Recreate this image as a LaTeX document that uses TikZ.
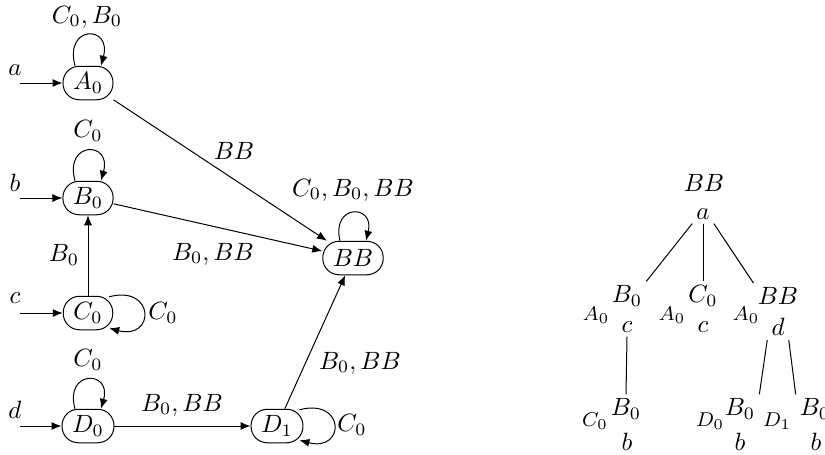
\documentclass[tikz,border=0pt]{standalone}
\usetikzlibrary{arrows.meta}
\begin{document}
\begin{tikzpicture}[x=0.4pt,y=-0.4pt,
  state/.style={draw,rounded corners=6.5pt,inner xsep=4pt,inner ysep=2.5pt,minimum height=13.4pt,minimum width=19.8pt},
  arr/.style={-{Latex[length=4pt,width=3.2pt]}},
  tn/.style={inner sep=1.5pt},
  sm/.style={inner sep=0pt,font=\footnotesize}]
\useasboundingbox (0,0) rectangle (825,454);
% states
\node[state] (A0) at (88,83) {$A_0$};
\node[state] (B0) at (88,198) {$B_0$};
\node[state] (C0) at (88,313) {$C_0$};
\node[state] (D0) at (88,426) {$D_0$};
\node[state] (D1) at (277,426) {$D_1$};
\node[state] (BB) at (353,258) {$BB$};
% initial arrows
\coordinate (ia) at (20,83);
\coordinate (ib) at (20,198);
\coordinate (ic) at (20,313);
\coordinate (id) at (20,426);
\node at (15,70) {$a$};
\node at (15,183) {$b$};
\node at (15,298) {$c$};
\node at (15,410) {$d$};
\draw[arr] (ia) -- (A0);
\draw[arr] (ib) -- (B0);
\draw[arr] (ic) -- (C0);
\draw[arr] (id) -- (D0);
% loops above
\draw[arr] ([shift={(-13,0)}]A0.north) .. controls +(-11,-41) and +(11,-41) .. ([shift={(13,0)}]A0.north);
\node at (87,17) {$C_0, B_0$};
\draw[arr] ([shift={(-13,0)}]B0.north) .. controls +(-11,-40) and +(11,-40) .. ([shift={(13,0)}]B0.north);
\node at (88,131) {$C_0$};
\draw[arr] ([shift={(-13,0)}]D0.north) .. controls +(-11,-39) and +(11,-39) .. ([shift={(13,0)}]D0.north);
\node at (88,360) {$C_0$};
\draw[arr] ([shift={(-13,0)}]BB.north) .. controls +(-9,-37) and +(9,-37) .. ([shift={(13,0)}]BB.north);
\node at (353,190) {$C_0, B_0, BB$};
% loops right
\draw[arr] ([shift={(-4,1)}]C0.north east) .. controls +(46,-12) and +(46,12) .. ([shift={(-4,-2)}]C0.south east);
\node at (163,313) {$C_0$};
\draw[arr] ([shift={(-4,1)}]D1.north east) .. controls +(46,-12) and +(46,12) .. ([shift={(-4,-3)}]D1.south east);
\node at (352,425) {$C_0$};
% edges
\draw[arr] (A0) -- (BB);
\node at (234,151) {$BB$};
\draw[arr] (B0) -- (BB);
\node at (213,254) {$B_0, BB$};
\draw[arr] (C0) -- (B0);
\node at (64,255) {$B_0$};
\draw[arr] (D0) -- (D1);
\node at (182,405) {$B_0, BB$};
\draw[arr] (D1) -- (BB);
\node at (360,363) {$B_0, BB$};
% tree
\node[tn] (tBB) at (704,183) {$BB$};
\node[tn] (ta) at (703,214) {$a$};
\node[tn] (t1) at (627,296) {$B_0$};
\node[tn] (t2) at (703,296) {$C_0$};
\node[tn] (t3) at (778,296) {$BB$};
\node[sm] (s1) at (596,315) {$A_0$};
\node[sm] (s2) at (672,315) {$A_0$};
\node[sm] (s3) at (746,315) {$A_0$};
\node[tn] (c1) at (627,327) {$c$};
\node[tn] (c2) at (703,327) {$c$};
\node[tn] (d1) at (778,327) {$d$};
\draw (ta.south west) -- (t1.north east);
\draw (ta.south) -- (t2.north);
\draw (ta.south east) -- (t3.north west);
\node[tn] (u1) at (626,409) {$B_0$};
\node[tn] (u2) at (740,409) {$B_0$};
\node[tn] (u3) at (815,409) {$B_0$};
\node[sm] (v1) at (595,421) {$C_0$};
\node[sm] (v2) at (710,421) {$D_0$};
\node[sm] (v3) at (777,421) {$D_1$};
\node[tn] (b1) at (627,442) {$b$};
\node[tn] (b2) at (740,442) {$b$};
\node[tn] (b3) at (816,442) {$b$};
\draw (c1.south) -- (u1.north);
\draw (d1.south west) -- (u2.north east);
\draw (d1.south east) -- (u3.north west);
\end{tikzpicture}
\end{document}
